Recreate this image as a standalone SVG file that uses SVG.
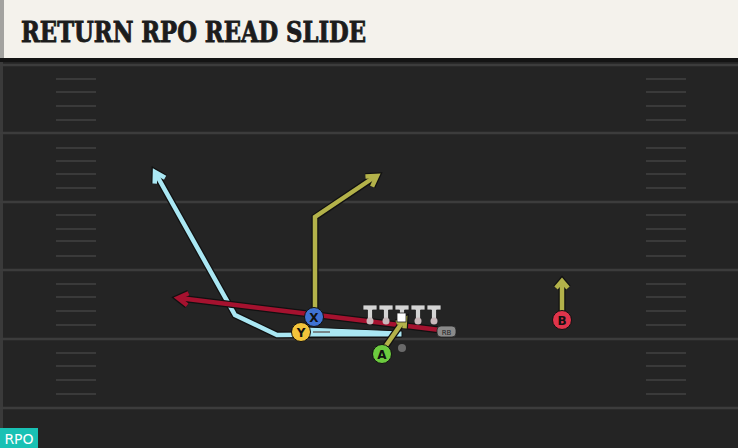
<svg xmlns="http://www.w3.org/2000/svg" width="738" height="448" viewBox="0 0 738 448">
<defs>
<style>
.yard{stroke:#3c3c3c;stroke-width:2.5}
.hash{stroke:#3a3a3a;stroke-width:2.2}
.out{fill:none;stroke:#111;stroke-width:7;stroke-linejoin:miter;stroke-linecap:butt}
.blue{fill:none;stroke:#aae7f3;stroke-width:4.5}
.olive{fill:none;stroke:#b3b24a;stroke-width:4.5}
.red{fill:none;stroke:#a5122f;stroke-width:4.5}
.lbl{font-family:"DejaVu Sans",sans-serif;font-size:12px;font-weight:bold;fill:#111;text-anchor:middle}
.ol{fill:#d4d4d4;stroke:#222;stroke-width:0.8}
.pc{stroke:#111;stroke-width:1}
</style>
</defs>
<rect x="0" y="0" width="738" height="448" fill="#242424"/>
<rect x="0" y="60" width="3" height="388" fill="#3a3a3a"/>
<g id="field">
<line class="yard" x1="0" y1="65" x2="738" y2="65"/>
<line class="yard" x1="0" y1="133" x2="738" y2="133"/>
<line class="yard" x1="0" y1="202" x2="738" y2="202"/>
<line class="yard" x1="0" y1="270" x2="738" y2="270"/>
<line class="yard" x1="0" y1="339" x2="738" y2="339"/>
<line class="yard" x1="0" y1="408" x2="738" y2="408"/>
<g>
<line class="hash" x1="56" y1="79" x2="96" y2="79"/><line class="hash" x1="56" y1="92" x2="96" y2="92"/><line class="hash" x1="56" y1="106" x2="96" y2="106"/><line class="hash" x1="56" y1="120" x2="96" y2="120"/>
<line class="hash" x1="56" y1="148" x2="96" y2="148"/><line class="hash" x1="56" y1="161" x2="96" y2="161"/><line class="hash" x1="56" y1="174" x2="96" y2="174"/><line class="hash" x1="56" y1="188" x2="96" y2="188"/>
<line class="hash" x1="56" y1="215" x2="96" y2="215"/><line class="hash" x1="56" y1="229" x2="96" y2="229"/><line class="hash" x1="56" y1="241" x2="96" y2="241"/><line class="hash" x1="56" y1="256" x2="96" y2="256"/>
<line class="hash" x1="56" y1="284" x2="96" y2="284"/><line class="hash" x1="56" y1="297" x2="96" y2="297"/><line class="hash" x1="56" y1="311" x2="96" y2="311"/><line class="hash" x1="56" y1="325" x2="96" y2="325"/>
<line class="hash" x1="56" y1="353" x2="96" y2="353"/><line class="hash" x1="56" y1="366" x2="96" y2="366"/><line class="hash" x1="56" y1="380" x2="96" y2="380"/><line class="hash" x1="56" y1="394" x2="96" y2="394"/>
<line class="hash" x1="646" y1="79" x2="686" y2="79"/><line class="hash" x1="646" y1="92" x2="686" y2="92"/><line class="hash" x1="646" y1="106" x2="686" y2="106"/><line class="hash" x1="646" y1="120" x2="686" y2="120"/>
<line class="hash" x1="646" y1="148" x2="686" y2="148"/><line class="hash" x1="646" y1="161" x2="686" y2="161"/><line class="hash" x1="646" y1="174" x2="686" y2="174"/><line class="hash" x1="646" y1="188" x2="686" y2="188"/>
<line class="hash" x1="646" y1="215" x2="686" y2="215"/><line class="hash" x1="646" y1="229" x2="686" y2="229"/><line class="hash" x1="646" y1="241" x2="686" y2="241"/><line class="hash" x1="646" y1="256" x2="686" y2="256"/>
<line class="hash" x1="646" y1="284" x2="686" y2="284"/><line class="hash" x1="646" y1="297" x2="686" y2="297"/><line class="hash" x1="646" y1="311" x2="686" y2="311"/><line class="hash" x1="646" y1="325" x2="686" y2="325"/>
<line class="hash" x1="646" y1="353" x2="686" y2="353"/><line class="hash" x1="646" y1="366" x2="686" y2="366"/><line class="hash" x1="646" y1="380" x2="686" y2="380"/><line class="hash" x1="646" y1="394" x2="686" y2="394"/>
</g>
</g>
<g id="header">
<rect x="0" y="58" width="738" height="4" fill="#141414"/>
<rect x="0" y="0" width="738" height="58" fill="#f4f2ec"/>
<rect x="0" y="0" width="4" height="58" fill="#a3a3a0"/>
<text x="21" y="42" font-family="'DejaVu Serif',serif" font-weight="bold" font-size="27" fill="#1c1c1c" stroke="#1c1c1c" stroke-width="0.9" textLength="345" lengthAdjust="spacingAndGlyphs">RETURN RPO READ SLIDE</text>
</g>
<g id="connectors">
<path class="out" d="M400 334 L277 335 L235 315 L156 174"/>
<path class="out" d="M165.1 177.8 L155 172 L154.7 183.6"/>
<path class="blue" d="M400 334 L277 335 L235 315 L156 174"/>
<path class="blue" d="M165.1 177.8 L155 172 L154.7 183.6"/>
<polygon points="306,327 402,331 402,337 306,337" fill="#aae7f3" stroke="#111" stroke-width="1"/>
<line x1="313" y1="332" x2="330" y2="332" stroke="#666" stroke-width="1.5"/>
<path class="out" d="M315 312 L315 217 L376 176"/>
<path class="out" d="M372.1 186.6 L377 176 L365.4 176.6"/>
<path class="olive" d="M315 312 L315 217 L376 176"/>
<path class="olive" d="M372.1 186.6 L377 176 L365.4 176.6"/>
<path class="out" d="M440 330 L179 298"/>
<path class="out" d="M188.6 293.3 L178 298 L187.2 305.2"/>
<path class="red" d="M440 330 L179 298"/>
<path class="red" d="M188.6 293.3 L178 298 L187.2 305.2"/>
<path class="out" d="M385 347 L404 320"/>
<path class="out" d="M404.5 328.4 L405 319 L396.3 322.7"/>
<path class="olive" d="M385 347 L404 320"/>
<path class="olive" d="M404.5 328.4 L405 319 L396.3 322.7"/>
<path class="out" d="M562 311 L562 282"/>
<path class="out" d="M556 288 L562 281 L568 288"/>
<path class="olive" d="M562 311 L562 282"/>
<path class="olive" d="M556 288 L562 281 L568 288"/>
</g>
<g id="line">
<g id="lt"><path class="ol" d="M363 305 h14 v5 h-4.5 v9 h-5 v-9 h-4.5 z"/><circle cx="370" cy="321" r="3.5" fill="#c9b8bb"/></g>
<g id="lg"><path class="ol" d="M379 305 h14 v5 h-4.5 v9 h-5 v-9 h-4.5 z"/><circle cx="386" cy="321" r="3.5" fill="#c9b8bb"/></g>
<g id="c"><path class="ol" d="M395 305 h14 v5 h-4.5 v4 h-5 v-4 h-4.5 z"/><rect x="397" y="313" width="9" height="9" fill="#fff" stroke="#222" stroke-width="0.8"/></g>
<g id="rg"><path class="ol" d="M411 305 h14 v5 h-4.5 v9 h-5 v-9 h-4.5 z"/><circle cx="418" cy="321" r="3.5" fill="#c9b8bb"/></g>
<g id="rt"><path class="ol" d="M427 305 h14 v5 h-4.5 v9 h-5 v-9 h-4.5 z"/><circle cx="434" cy="321" r="3.5" fill="#c9b8bb"/></g>
</g>
<g id="rb">
<rect x="437" y="326" width="19" height="11" rx="4" fill="#8a8a8a" stroke="#222" stroke-width="0.8"/>
<text x="446.5" y="334.5" font-family="'DejaVu Sans',sans-serif" font-size="7" fill="#222" text-anchor="middle">RB</text>
</g>
<g id="dot"><circle cx="402" cy="348" r="4" fill="#6a6a6a"/></g>
<g id="X"><circle class="pc" cx="314" cy="317" r="9.5" fill="#3f73d3"/><text class="lbl" x="314" y="321.5">X</text></g>
<g id="Y"><circle class="pc" cx="301" cy="332" r="9.5" fill="#f2c43b"/><text class="lbl" x="301" y="336.5">Y</text></g>
<g id="A"><circle class="pc" cx="382" cy="354" r="9.5" fill="#6ccb3f"/><text class="lbl" x="382" y="358.5">A</text></g>
<g id="B"><circle class="pc" cx="562" cy="320" r="9.5" fill="#e0344b"/><text class="lbl" x="562" y="324.5">B</text></g>
<g id="badge">
<rect x="0" y="428" width="38" height="20" fill="#19c1b4"/>
<text x="19" y="444" font-family="'DejaVu Sans',sans-serif" font-size="14" fill="#fff" text-anchor="middle">RPO</text>
</g>
</svg>
